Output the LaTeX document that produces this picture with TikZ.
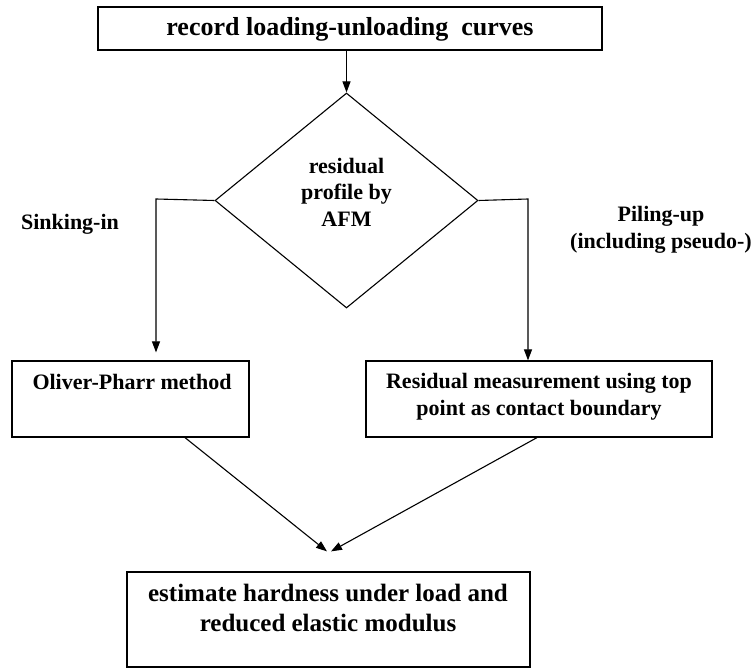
\documentclass[tikz,border=0pt]{standalone}
\usepackage{fontspec}
\setmainfont{Liberation Serif}
\usetikzlibrary{arrows.meta,shapes.geometric}
\begin{document}
\begin{tikzpicture}[x=1pt,y=-1pt,
  box/.style={draw,line width=1.2pt,inner sep=0pt},
  lbl/.style={font=\bfseries\fontsize{22}{26.5}\selectfont,align=center,inner sep=0pt},
  ln/.style={line width=1.1pt},
  arr/.style={line width=1.1pt,-{Triangle[length=11pt,width=8pt]}}]
\useasboundingbox[fill=white] (0,0) rectangle (755,668);
% boxes
\node[box,minimum width=504pt,minimum height=43pt] (top) at (350,28.5) {};
\node[lbl,font=\bfseries\fontsize{26}{31}\selectfont] (toptext) at (350,29) {record loading-unloading\ \ curves};
\node[ln,draw,diamond,minimum width=263pt,minimum height=215pt,inner sep=0pt] (dia) at (346.5,200.5) {};
\node[lbl] (diatext) at (346.5,192) {residual\\profile by\\AFM};
\node[box,minimum width=237pt,minimum height=76pt] (lbox) at (130.5,399) {};
\node[lbl] (ltext) at (132,382) {Oliver-Pharr method};
\node[box,minimum width=346pt,minimum height=76pt] (rbox) at (539,399) {};
\node[lbl] (rtext) at (539,396.5) {Residual measurement using top\\point as contact boundary};
\node[box,minimum width=403pt,minimum height=95pt] (bot) at (328.5,619.5) {};
\node[lbl,font=\bfseries\fontsize{25}{30}\selectfont] (btext) at (328,608) {estimate hardness under load and\\reduced elastic modulus};
% side labels
\node[lbl] (sink) at (70,224) {Sinking-in};
\node[lbl] (pile) at (661,230) {Piling-up\\(including pseudo-)};
% connectors
\coordinate (lc) at (156,199);
\coordinate (rc) at (528,199);
\draw[arr] (top.south -| dia.north) -- (dia.north);
\draw[arr,shorten >=8pt] (dia.west) -- (lc) -- (lc |- lbox.north);
\draw[arr] (dia.east) -- (rc) -- (rc |- rbox.north);
\draw[arr] ([xshift=54.5pt]lbox.south) -- ([xshift=-1.5pt,yshift=20pt]bot.north);
\draw[arr] ([xshift=-2pt]rbox.south) -- ([xshift=2.5pt,yshift=20pt]bot.north);
\end{tikzpicture}
\end{document}
